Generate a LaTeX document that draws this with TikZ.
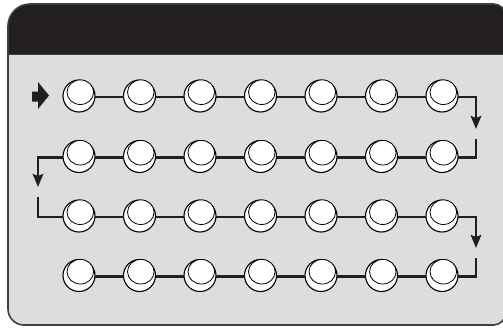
\documentclass[tikz,border=0pt]{standalone}
\usetikzlibrary{arrows.meta}
\definecolor{panelgray}{RGB}{220,221,223}
\definecolor{headblack}{RGB}{35,31,32}
\definecolor{bordergray}{RGB}{62,62,62}
\begin{document}
\begin{tikzpicture}[x=1pt,y=-1pt,
  btn/.style={circle,minimum size=32pt,inner sep=0pt,outer sep=0pt,draw=black,fill=white,line width=1.1pt},
  btninner/.style={draw=black,fill=white,line width=0.8pt},
  conn/.style={line width=2.6pt,draw=headblack,line join=miter},
  arr/.style={conn,-{Stealth[length=13pt,width=10.5pt,inset=2pt]}},
  panelpath/.style={line width=1.6pt,draw=bordergray}]
\useasboundingbox (0,0) rectangle (503,327);
% panel
\begin{scope}
\clip (8,309) -- (8,26) arc[start angle=180,end angle=270,radius=22] -- (493.5,4) arc[start angle=270,end angle=360,radius=12] -- (505.5,313) arc[start angle=0,end angle=90,radius=12] -- (24,325) arc[start angle=90,end angle=180,radius=16] -- cycle;
\fill[panelgray] (0,0) rectangle (510,330);
\fill[headblack] (0,0) rectangle (510,54);
\draw[line width=0.8pt,draw=bordergray] (0,54) -- (510,54);
\end{scope}
\draw[panelpath] (8,309) -- (8,26) arc[start angle=180,end angle=270,radius=22] -- (493.5,4) arc[start angle=270,end angle=360,radius=12] -- (505.5,313) arc[start angle=0,end angle=90,radius=12] -- (24,325) arc[start angle=90,end angle=180,radius=16] -- cycle;
% buttons
\foreach \r/\y in {1/96,2/156.5,3/216,4/275.5}{
  \foreach \k/\x in {1/79,2/139.5,3/200,4/260.5,5/321,6/381.5,7/442}{
    \node[btn] (c\r\k) at (\x,\y) {};
    \draw[btninner] ([shift={(1.3,-3.8)}]c\r\k.center) ellipse[x radius=13.3,y radius=12.3];
  }
}
% horizontal connectors
\foreach \r in {1,2,3,4}{
  \foreach \k [evaluate=\k as \n using int(\k+1)] in {1,...,6}{
    \draw[conn] ([yshift=-1pt]c\r\k.east) -- ([yshift=-1pt]c\r\n.west);
  }
}
% turn coordinates
\coordinate (t1) at (476,129);
\coordinate (s1) at (476,139);
\coordinate (t2) at (38,187);
\coordinate (s2) at (38,197);
\coordinate (t3) at (476,248);
\coordinate (s3) at (476,258);
\draw[arr] ([yshift=-1pt]c17.east) -| (t1);
\draw[conn] (s1) |- ([yshift=-1pt]c27.east);
\draw[arr] ([yshift=-1pt]c21.west) -| (t2);
\draw[conn] (s2) |- ([yshift=-1pt]c31.west);
\draw[arr] ([yshift=-1pt]c37.east) -| (t3);
\draw[conn] (s3) |- ([yshift=-1pt]c47.east);
% start arrow
\fill[headblack] (32,91.5) -- (38,91.5) -- (38,82) -- (49,95.5) -- (38,109) -- (38,101.5) -- (32,101.5) -- cycle;
\end{tikzpicture}
\end{document}
